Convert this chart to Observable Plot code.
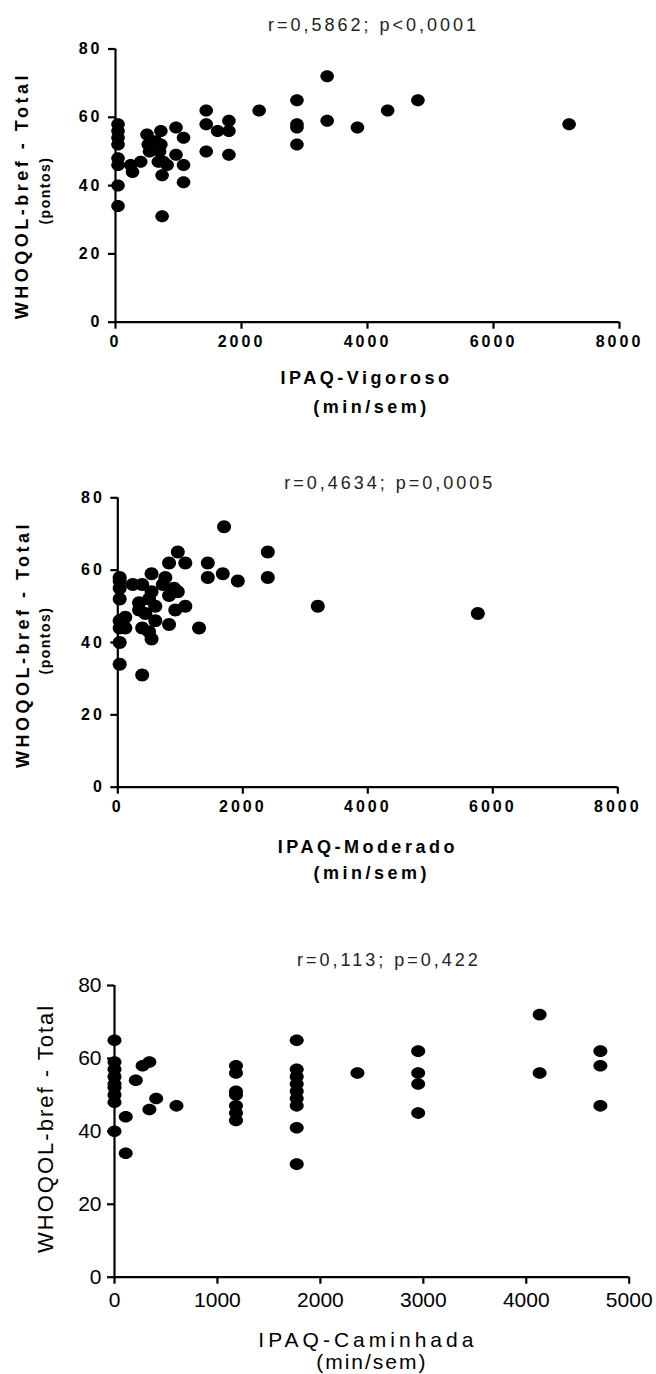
<!DOCTYPE html>
<html><head><meta charset="utf-8">
<script src="https://cdn.jsdelivr.net/npm/d3@7"></script>
<script src="https://cdn.jsdelivr.net/npm/@observablehq/plot@0.6"></script>
<style>
body{margin:0;background:#fff}
#c{width:656px;height:1374px;overflow:hidden}
#c svg{display:block}
</style>
</head><body><div id="c"></div>
<script>
// ---- data ----
const yTicks = [0, 20, 40, 60, 80];
const xTicksVM = [0, 2000, 4000, 6000, 8000];
const xTicksCam = [0, 1000, 2000, 3000, 4000, 5000];

const titles = ["r=0,5862; p<0,0001", "r=0,4634; p=0,0005", "r=0,113; p=0,422"];
const xLabels = ["IPAQ-Vigoroso", "IPAQ-Moderado", "IPAQ-Caminhada"];
const unitLabel = "(min/sem)";
const yLabel = "WHOQOL-bref - Total";
const yUnit = "(pontos)";

// IPAQ-Vigoroso
const vigX = [40,40,40,40,40,40,40,40, 240,270,400,
  500,520,540,640,720,720,700,680,760,820,740,740,
  960,1080,960,1080,1080,
  1440,1440,1440,1620,1800,1800,1800,2280,2880,2880,2880,2880,3360,3360,3840,4320,4800,7200];
const vigY = [58,56,54,52,48,46,40,34, 46,44,47,
  55,52,50,53,56,52,50,47,47,46,43,31,
  57,54,49,46,41,
  62,58,50,56,59,56,49,62,65,58,57,52,72,59,57,62,65,58];

// IPAQ-Moderado
const modX = [30,30,30,30,30,30,30,30,
  240,390,540,760,960,820,1080,1440,1440,1680,
  1700,1920,2400,2400,720,900,960,820,920,1080,
  820,1300,540,390,340,500,600,440,600,390,
  120,120,500,340,540,3200,5760];
const modY = [58,57,55,52,46,44,40,34,
  56,56,59,58,65,62,62,62,58,59,
  72,57,65,58,56,55,54,53,49,50,
  45,44,41,31,51,52,50,48,46,44,
  47,44,43,49,54,50,48];

// IPAQ-Caminhada
const camX = [0,0,0,0,0,0,0,0,0,
  109,109,207,273,339,339,405,602,
  1180,1180,1180,1180,1180,1180,1180,
  1770,1770,1770,1770,1770,1770,1770,1770,1770,
  2360, 2950,2950,2950,2950, 4130,4130, 4720,4720,4720];
const camY = [65,59,57,55,53,52,50,48,40,
  44,34,54,58,59,46,49,47,
  58,56,51,50,47,45,43,
  65,57,55,53,51,49,47,41,31,
  56, 62,56,53,45, 72,56, 62,58,47];

// ---- drawing ----
function ellipse(rx, ry) {
  const k = 0.5523;
  return {draw(ctx) {
    ctx.moveTo(rx, 0);
    ctx.bezierCurveTo(rx, ry * k, rx * k, ry, 0, ry);
    ctx.bezierCurveTo(-rx * k, ry, -rx, ry * k, -rx, 0);
    ctx.bezierCurveTo(-rx, -ry * k, -rx * k, -ry, 0, -ry);
    ctx.bezierCurveTo(rx * k, -ry, rx, -ry * k, rx, 0);
    ctx.closePath();
  }};
}

function makePanel(o) {
  const data = o.xs.map((x, i) => ({x, y: o.ys[i]}));
  const fw = o.bold ? "bold" : "normal";
  const marks = [
    Plot.ruleX([0], {strokeWidth: 2.2}),
    Plot.ruleY([0], {strokeWidth: 2.2}),
    Plot.axisX(o.xTicks, {anchor: "bottom", tickSize: 7, tickPadding: o.xPad, strokeWidth: 2.2,
      fontSize: o.tickFs, fontWeight: fw, label: null, tickFormat: d3.format("d")}),
    Plot.axisY(yTicks, {anchor: "left", tickSize: 7, tickPadding: o.yPad, strokeWidth: 2.2,
      fontSize: o.tickFs, fontWeight: fw, label: null, tickFormat: d3.format("d")}),
    Plot.dot(data, {x: "x", y: "y", symbol: ellipse(o.rx, o.ry), fill: "black"}),
    Plot.text([o.title], {text: d => d, frameAnchor: "top", textAnchor: "middle", dx: o.tDx, dy: o.tDy,
      fontSize: 18, fill: "#222", lineAnchor: "middle"}),
    Plot.text([o.xLabel], {text: d => d, frameAnchor: "bottom", textAnchor: "middle", dx: o.lDx, dy: o.lDy,
      fontSize: o.labFs, fontWeight: fw, lineAnchor: "middle"}),
    Plot.text([unitLabel], {text: d => d, frameAnchor: "bottom", textAnchor: "middle", dx: o.uDx, dy: o.uDy,
      fontSize: o.unitFs, fontWeight: fw, lineAnchor: "middle"}),
    Plot.text([yLabel], {text: d => d, frameAnchor: "left", textAnchor: "middle", dx: o.yDx, dy: o.yDy, rotate: -90,
      fontSize: o.yLabFs, fontWeight: fw, lineAnchor: "middle"})
  ];
  if (o.yUnit) marks.push(Plot.text([yUnit], {text: d => d, frameAnchor: "left", textAnchor: "middle",
      dx: o.puDx, dy: o.puDy, rotate: -90, fontSize: 14, fontWeight: "bold", lineAnchor: "middle"}));
  const svg = Plot.plot({
    width: 656, height: o.h,
    marginTop: o.mt, marginBottom: o.mb, marginLeft: o.ml, marginRight: o.mr,
    x: {domain: [0, o.xMax]},
    y: {domain: [0, 80]},
    style: {fontFamily: "'Liberation Sans', Arial, sans-serif", color: "black", background: "white", overflow: "visible"},
    marks
  });
  const s = d3.select(svg);
  s.selectAll('g[aria-label="x-axis tick label"] text, g[aria-label="y-axis tick label"] text')
    .attr("letter-spacing", o.tickLs);
  const ls = {};
  ls[o.title] = 3; ls[o.xLabel] = o.labLs; ls[unitLabel] = o.unitLs; ls[yLabel] = o.yLabLs; ls[yUnit] = 1.5;
  s.selectAll("text").each(function() {
    const t = this.textContent;
    if (ls[t] !== undefined && this.parentNode.getAttribute("aria-label") === "text") d3.select(this).attr("letter-spacing", ls[t]);
  });
  return svg;
}

const c = document.getElementById("c");
c.append(makePanel({
  xs: vigX, ys: vigY, xTicks: xTicksVM, xMax: 8000, title: titles[0], xLabel: xLabels[0],
  bold: true, yUnit: true, h: 440, mt: 48.5, mb: 118.3, ml: 115, mr: 37,
  xPad: 6, yPad: 6, tickFs: 16, tickLs: 3, rx: 6.8, ry: 6,
  tDx: 6, tDy: -23.5, labFs: 18, labLs: 3.5, lDx: -1, lDy: 56.3,
  unitFs: 18, unitLs: 3.5, uDx: 4, uDy: 85,
  yLabFs: 18, yLabLs: 3.5, yDx: -93, yDy: 10, puDx: -70, puDy: 5
}));
c.append(makePanel({
  xs: modX, ys: modY, xTicks: xTicksVM, xMax: 8000, title: titles[1], xLabel: xLabels[1],
  bold: true, yUnit: true, h: 460, mt: 57.3, mb: 113.3, ml: 117.3, mr: 38.7,
  xPad: 6, yPad: 6, tickFs: 16, tickLs: 3, rx: 7, ry: 6.5,
  tDx: 22, tDy: -14.3, labFs: 18, labLs: 3.5, lDx: 0, lDy: 60,
  unitFs: 18, unitLs: 3.5, uDx: 4, uDy: 86,
  yLabFs: 18, yLabLs: 3.5, yDx: -95, yDy: 2, puDx: -72, puDy: -2
}));
c.append(makePanel({
  xs: camX, ys: camY, xTicks: xTicksCam, xMax: 5000, title: titles[2], xLabel: xLabels[2],
  bold: false, yUnit: false, h: 474, mt: 85, mb: 97.3, ml: 114, mr: 27.3,
  xPad: 8, yPad: 6, tickFs: 21, tickLs: 0, rx: 7, ry: 5.8,
  tDx: 17, tDy: -25, labFs: 21, labLs: 4, lDx: -4, lDy: 63,
  unitFs: 21, unitLs: 2, uDx: 0, uDy: 85,
  yLabFs: 22, yLabLs: 2, yDx: -69, yDy: -3
}));
</script>
</body></html>
